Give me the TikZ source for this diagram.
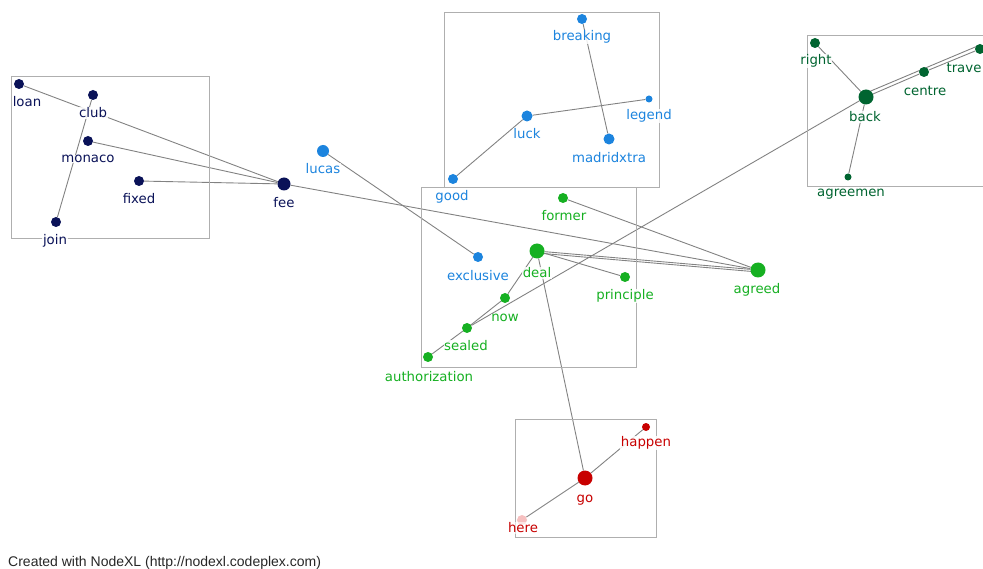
\documentclass[tikz,border=0pt]{standalone}
\usepackage{fontspec}
\setmainfont{DejaVu Sans}
\newfontfamily\footfont{Liberation Sans}
\usetikzlibrary{backgrounds}
\definecolor{cnavy}{RGB}{10,18,88}
\definecolor{cblue}{RGB}{28,132,222}
\definecolor{cdgreen}{RGB}{0,100,48}
\definecolor{cgreen}{RGB}{22,176,34}
\definecolor{cred}{RGB}{200,0,0}
\definecolor{cpink}{RGB}{246,192,192}
\definecolor{cedge}{RGB}{130,130,130}
\definecolor{cbox}{RGB}{175,175,175}
\newcommand\vtx[7]{%
  \node[dot=#4,fill=#5] (#1) at (#2,#3) {};
  \node[lbl,text=#5] (#1L) at (#6) {#7};}
\begin{document}
\begin{tikzpicture}[x=1pt,y=-1pt,
  dot/.style={circle,inner sep=0pt,minimum size=#1pt,draw=none},
  lbl/.style={fill=white,fill opacity=0.85,text opacity=1,inner sep=0.6pt,font=\fontsize{13.3}{14}\selectfont},
  edge/.style={draw=cedge,line width=0.9pt},
  grp/.style={draw=cbox,line width=0.9pt}]
\useasboundingbox (0,0) rectangle (983,569);
\clip (0,0) rectangle (983,569);
% groups
\node[grp,inner sep=0pt,minimum width=198pt,minimum height=162pt,anchor=north west] (g1) at (11,76) {};
\node[grp,inner sep=0pt,minimum width=215pt,minimum height=175pt,anchor=north west] (g2) at (444,12) {};
\node[grp,inner sep=0pt,minimum width=190pt,minimum height=151pt,anchor=north west] (g3) at (807,35) {};
\node[grp,inner sep=0pt,minimum width=215pt,minimum height=180pt,anchor=north west] (g4) at (421,187) {};
\node[grp,inner sep=0pt,minimum width=141pt,minimum height=118pt,anchor=north west] (g5) at (515,419) {};
% vertices
\vtx{loan}{19}{84}{10}{cnavy}{27,102}{loan}
\vtx{club}{93}{95}{10}{cnavy}{93,113}{club}
\vtx{monaco}{88}{141}{10}{cnavy}{88,159}{monaco}
\vtx{fixed}{139}{181}{10}{cnavy}{139,199}{fixed}
\vtx{join}{56}{222}{10}{cnavy}{55,241}{join}
\vtx{fee}{284}{184}{13}{cnavy}{284,203}{fee}
\vtx{lucas}{323}{151}{12}{cblue}{323,169}{lucas}
\vtx{exclusive}{478}{257}{10}{cblue}{478,276}{exclusive}
\vtx{good}{453}{179}{10}{cblue}{452,197}{good}
\vtx{luck}{527}{116}{11}{cblue}{527,134}{luck}
\vtx{legend}{649}{99}{7}{cblue}{649,116}{legend}
\vtx{breaking}{582}{19}{10}{cblue}{582,37}{breaking}
\vtx{madridxtra}{609}{139}{11}{cblue}{609,158}{madridxtra}
\vtx{right}{815}{43}{10}{cdgreen}{816,61}{right}
\vtx{back}{866}{97}{15}{cdgreen}{865,117}{back}
\vtx{centre}{924}{72}{10}{cdgreen}{925,91}{centre}
\vtx{travel}{980}{49}{10}{cdgreen}{964,68}{trave}
\vtx{agreemen}{848}{177}{7}{cdgreen}{851,194}{agreemen}
\vtx{former}{563}{198}{10}{cgreen}{564,216}{former}
\vtx{deal}{537}{251}{15}{cgreen}{537,273}{deal}
\vtx{principle}{625}{277}{10}{cgreen}{625,296}{principle}
\vtx{agreed}{758}{270}{15}{cgreen}{757,290}{agreed}
\vtx{now}{505}{298}{10}{cgreen}{505,318}{now}
\vtx{sealed}{467}{328}{10}{cgreen}{466,346}{sealed}
\vtx{authorization}{428}{357}{10}{cgreen}{429,377}{authorization}
\vtx{go}{585}{478}{15}{cred}{585,500}{go}
\vtx{happen}{646}{427}{8}{cred}{646,443}{happen}
\node[dot=10,fill=cpink] (here) at (522,520) {};
\node[lbl,text=cred,fill opacity=0.6] (hereL) at (523,528) {here};
% footer
\node[anchor=base west,inner sep=0pt,font=\footfont\fontsize{14}{15}\selectfont,text=black!85] (foot) at (8,566) {Created with NodeXL (http://nodexl.codeplex.com)};
% edges
\begin{pgfonlayer}{background}
\draw[edge] (loan) -- (fee);
\draw[edge] (club) -- (join);
\draw[edge] (monaco) -- (fee);
\draw[edge] (fixed) -- (fee);
\draw[edge] (fee) -- (agreed);
\draw[edge] (lucas) -- (exclusive);
\draw[edge] (good) -- (luck);
\draw[edge] (luck) -- (legend);
\draw[edge] (breaking) -- (madridxtra);
\draw[edge] (right) -- (back);
\draw[edge] (back) -- (centre);
\draw[edge] (centre) -- (travel);
\draw[edge] ([yshift=4pt]back.center) -- ([yshift=4pt]travel.center);
\draw[edge] (back) -- (agreemen);
\draw[edge] (back) -- (sealed);
\draw[edge] (former) -- (agreed);
\draw[edge] (deal) -- (agreed);
\draw[edge] ([yshift=-2pt]deal.center) -- ([yshift=-2pt]agreed.center);
\draw[edge] (deal) -- (principle);
\draw[edge] (deal) -- (now);
\draw[edge] (now) -- (sealed);
\draw[edge] (sealed) -- (authorization);
\draw[edge] (deal) -- (go);
\draw[edge] (go) -- (happen);
\draw[edge] (go) -- (here);
\end{pgfonlayer}
\end{tikzpicture}
\end{document}
